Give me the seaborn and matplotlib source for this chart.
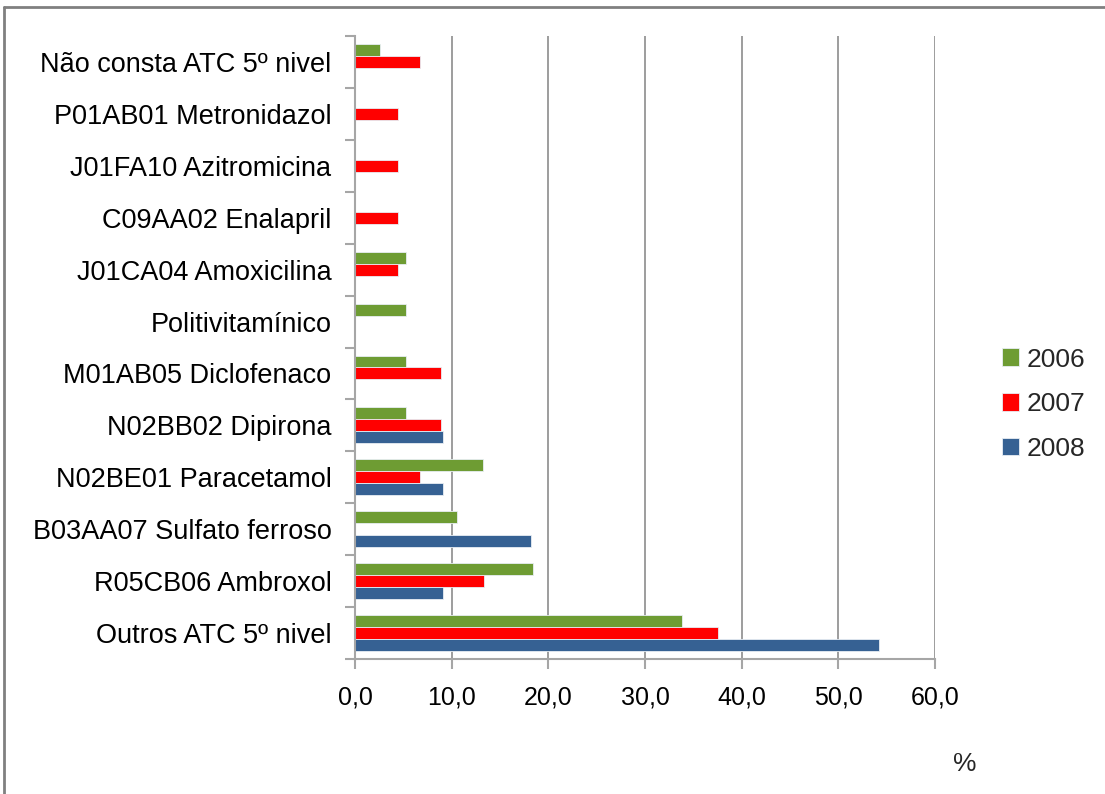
import matplotlib
matplotlib.use("Agg")
import matplotlib.pyplot as plt
import matplotlib.ticker as mticker
from matplotlib.lines import Line2D
import seaborn as sns
import pandas as pd
import numpy as np

categories = [
    "Não consta ATC 5º nivel",
    "P01AB01 Metronidazol",
    "J01FA10 Azitromicina",
    "C09AA02 Enalapril",
    "J01CA04 Amoxicilina",
    "Politivitamínico",
    "M01AB05 Diclofenaco",
    "N02BB02 Dipirona",
    "N02BE01 Paracetamol",
    "B03AA07 Sulfato ferroso",
    "R05CB06 Ambroxol",
    "Outros ATC 5º nivel",
]
years = ["2006", "2007", "2008"]
v2006 = [2.6, 0, 0, 0, 5.3, 5.3, 5.3, 5.3, 13.2, 10.5, 18.4, 33.8]
v2007 = [6.7, 4.4, 4.4, 4.4, 4.4, 0, 8.9, 8.9, 6.7, 0, 13.3, 37.5]
v2008 = [0, 0, 0, 0, 0, 0, 0, 9.1, 9.1, 18.2, 9.1, 54.2]
xticks = [0, 10, 20, 30, 40, 50, 60]
colors = ["#6E9C33", "#FF0000", "#366193"]

rows = []
for y, vals in zip(years, [v2006, v2007, v2008]):
    for c, v in zip(categories, vals):
        rows.append({"Categoria": c, "Ano": y, "Valor": v})
df = pd.DataFrame(rows)

sns.set_theme(style="white")
plt.rcParams["font.family"] = ["Liberation Sans", "DejaVu Sans"]

fig = plt.figure(figsize=(11.05, 7.94), dpi=100)
ax = fig.add_axes([355 / 1105, 1 - 659 / 794, 580 / 1105, (659 - 36) / 794])

sns.barplot(data=df, y="Categoria", x="Valor", hue="Ano", order=categories,
            hue_order=years, palette=colors, orient="h", width=0.69,
            saturation=1, edgecolor="#E8EEF4", linewidth=0.6, ax=ax, legend=True)

ax.set_xlim(0, 60)
ax.set_ylim(len(categories) - 0.5, -0.5)
ax.set_xticks(xticks)
ax.xaxis.set_major_formatter(mticker.FuncFormatter(lambda v, p: f"{v:.1f}".replace(".", ",")))
ax.grid(axis="x", color="#8C8C8C", linewidth=1.2)
ax.set_axisbelow(True)
for s in ["top", "right"]:
    ax.spines[s].set_visible(False)
for s in ["left", "bottom"]:
    ax.spines[s].set_color("#A6A6A6")
    ax.spines[s].set_linewidth(1.5)

ax.set_yticks(np.arange(len(categories) + 1) - 0.5, minor=True)
ax.tick_params(axis="y", which="major", length=0, pad=17, labelsize=19.5, labelcolor="#000000")
ax.tick_params(axis="y", which="minor", length=7, width=1.5, color="#A6A6A6", left=True)
ax.tick_params(axis="x", which="major", length=7, width=1.5, color="#A6A6A6",
               bottom=True, pad=12, labelsize=18, labelcolor="#000000")
ax.set_xlabel("")
ax.set_ylabel("")

leg = ax.legend(loc="upper left", bbox_to_anchor=(991 / 1105, 1 - 337 / 794),
                bbox_transform=fig.transFigure, frameon=False, fontsize=19,
                handlelength=0.65, handleheight=0.65, handletextpad=0.3,
                labelspacing=0.78, borderaxespad=0)

fig.text(965 / 1105, 1 - 764 / 794, "%", fontsize=19, ha="center", va="center")

fig.add_artist(Line2D([4 / 1105, 4 / 1105], [0, 1 - 7 / 794], transform=fig.transFigure,
                      color="#808080", linewidth=2))
fig.add_artist(Line2D([4 / 1105, 1], [1 - 7 / 794, 1 - 7 / 794], transform=fig.transFigure,
                      color="#808080", linewidth=2))

fig.savefig("out.png", dpi=100)
